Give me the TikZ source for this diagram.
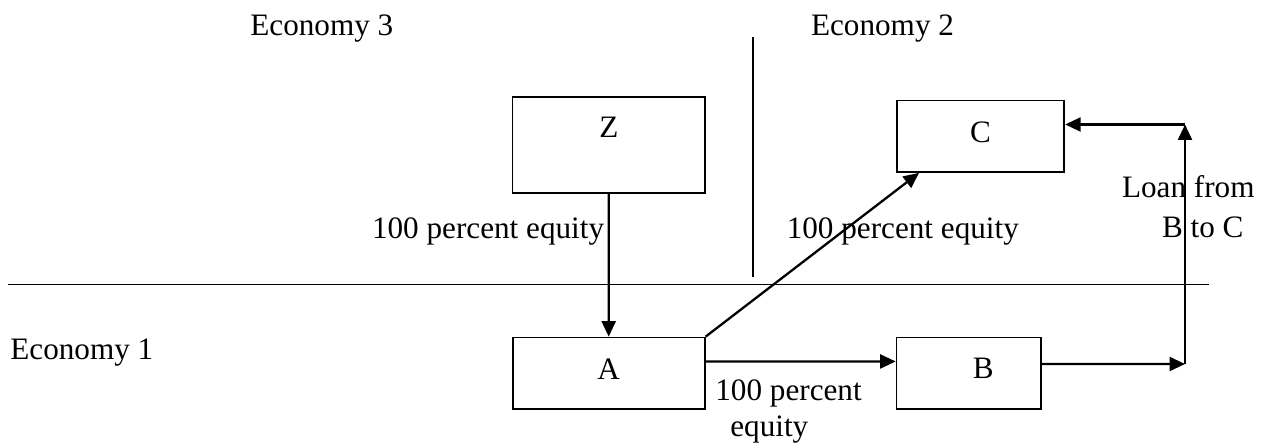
\documentclass[tikz,border=0pt]{standalone}
\usepackage{fontspec}
\setmainfont{Liberation Serif}
\usetikzlibrary{calc,arrows.meta}

\begin{document}
\begin{tikzpicture}[x=0.02cm,y=-0.02cm,
		font=\fontsize{17.75pt}{22.8pt}\selectfont,
		firm/.style={draw,line width=1.05pt,inner sep=0pt,minimum height=1.43cm},
		label/.style={inner sep=0pt,anchor=base west,align=left},
		link/.style={line width=1.3pt,-{Triangle[length=0.31cm,width=0.28cm]}},
		border/.style={line width=0.7pt}]
		\useasboundingbox (0,0) rectangle (1271,448);
		
		% economies
		\draw[border] (8,284.7) -- (1209,284.7);
		\draw[border] (753,37) -- (753,277);
		\node[label] (econ3) at (250,36) {Economy 3};
		\node[label] (econ2) at (810.7,36) {Economy 2};
		\node[label] (econ1) at (10,360) {Economy 1};
		
		% enterprises
		\node[firm,minimum width=3.85cm,minimum height=1.92cm,text depth=20pt] (Z) at (608.8,145.3) {Z};
		\node[firm,minimum width=3.84cm,text depth=4.7pt] (A) at (608.7,373.3) {A};
		\node[firm,minimum width=3.35cm,text depth=5.1pt] (C) at (980.5,136.2) {C};
		\node[firm,minimum width=2.89cm,text depth=5.5pt] (B) at (968.8,373.2) {\hspace*{0.58cm}B};
		
		\coordinate (turnlow) at (1185,364);
		\coordinate (turnhigh) at (1185,124.5);
		
		% investment links
		\draw[link] (Z.south) -- (A.north);
		\draw[link] (A.north east) -- ($(C.south west)!0.137!(C.south east)$);
		\draw[link] ([yshift=0.235cm]A.east) -- ([yshift=0.235cm]B.west);
		\draw[link] ([yshift=0.184cm]B.east) -- (turnlow);
		\draw[link] (turnlow) -- (turnhigh);
		\draw[link] (turnhigh) -- (C.east |- turnhigh);
		
		\node[label] (eqZA) at (371.7,238.3) {100 percent equity};
		\node[label] (eqAC) at (786.4,238.3) {100 percent equity};
		\node[label] (eqAB) at (715,437) {100 percent\\[-2.3pt]\hspace*{0.3cm}equity};
		\node[label] (loan) at (1121.7,237.3) {Loan from\\\hspace*{0.8cm}B to C};
		
	\end{tikzpicture}
\end{document}
